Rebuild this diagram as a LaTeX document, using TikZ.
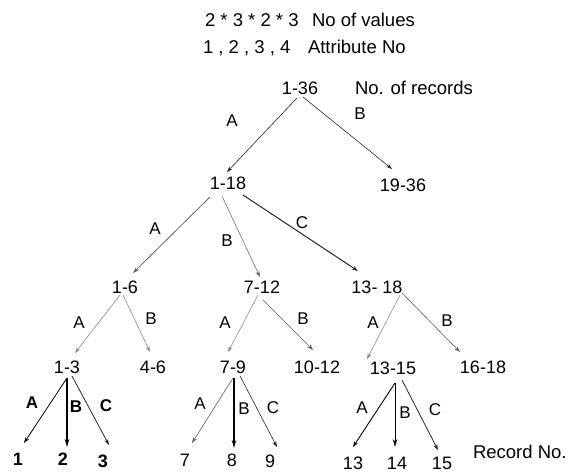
\documentclass[tikz,border=0pt]{standalone}
\usepackage{fontspec}
\setmainfont{Liberation Sans}
\usetikzlibrary{arrows.meta,calc}
\begin{document}
\begin{tikzpicture}[x=1pt,y=-1pt,
  every node/.style={inner sep=0pt,outer sep=0pt,text height=13pt,text depth=0pt},
  num/.style={font=\fontsize{18}{20}\selectfont},
  hdr/.style={font=\fontsize{18.5}{20}\selectfont,anchor=west},
  lab/.style={font=\fontsize{17}{20}\selectfont,text height=12pt},
  blab/.style={lab,font=\fontsize{17}{20}\selectfont\bfseries},
  e/.style={-{Stealth[length=6pt,width=4pt]},line width=0.6pt},
  dk/.style={e,draw=black!85},
  md/.style={e,draw=black!62},
  lt/.style={e,draw=black!45},
  thk/.style={-{Stealth[length=8pt,width=4.5pt]},line width=1.2pt,draw=black}
]
\useasboundingbox (0,0) rectangle (569,475);
% header
\node[hdr] (h1) at (205,20) {2 * 3 * 2 * 3};
\node[hdr] (h2) at (312,20) {No of values};
\node[hdr] (h3) at (203,47) {1 , 2 , 3 , 4};
\node[hdr] (h4) at (308,47) {Attribute No};
\node[hdr] (h5) at (355,88) {No. of records};
\node[hdr] (h6) at (473,452) {Record No.};
% tree nodes
\node[num] (n136) at (300,88) {1-36};
\node[num] (n118) at (228,183) {1-18};
\node[num] (n1936) at (403,185) {19-36};
\node[num] (n16) at (125,287) {1-6};
\node[num] (n712) at (262,287) {7-12};
\node[num] (n1318) at (377,287) {13- 18};
\node[num] (n13) at (67,367) {1-3};
\node[num] (n46) at (153,367) {4-6};
\node[num] (n79) at (233,367) {7-9};
\node[num] (n1012) at (317,367) {10-12};
\node[num] (n1315) at (393,368) {13-15};
\node[num] (n1618) at (483,367) {16-18};
% leaves
\node[num,font=\fontsize{18}{20}\selectfont\bfseries] (l1) at (18,459) {1};
\node[num,font=\fontsize{18}{20}\selectfont\bfseries] (l2) at (63,459) {2};
\node[num,font=\fontsize{18}{20}\selectfont\bfseries] (l3) at (103,461) {3};
\node[num] (l7) at (185,460) {7};
\node[num] (l8) at (232,460) {8};
\node[num] (l9) at (270,461) {9};
\node[num] (l13) at (353,463) {13};
\node[num] (l14) at (397,463) {14};
\node[num] (l15) at (442,463) {15};
% edge labels
\node[lab] (a1) at (232,120) {A};
\node[lab] (b1) at (360,113) {B};
\node[lab] (a2) at (155,228) {A};
\node[lab] (b2) at (227,240) {B};
\node[lab] (c2) at (302,222) {C};
\node[lab] (a3) at (79,322) {A};
\node[lab] (b3) at (151,318) {B};
\node[lab] (a4) at (225,322) {A};
\node[lab] (b4) at (303,318) {B};
\node[lab] (a5) at (373,322) {A};
\node[lab] (b5) at (447,320) {B};
\node[blab] (a6) at (32,402) {A};
\node[blab] (b6) at (76,406) {B};
\node[blab] (c6) at (106,405) {C};
\node[lab] (a7) at (200,403) {A};
\node[lab] (b7) at (244,408) {B};
\node[lab] (c7) at (273,407) {C};
\node[lab] (a8) at (362,407) {A};
\node[lab] (b8) at (405,412) {B};
\node[lab] (c8) at (435,409) {C};
% edges
\draw[dk] ($(n136.south)+(-3,3.5)$) -- ($(n118.north)+(-1,-4.5)$);
\draw[dk] ($(n136.south)+(3,2.5)$) -- ($(n1936.north)+(-11,-9.5)$);
\draw[md,line width=0.8pt] ($(n118.south)+(-18,7.5)$) -- ($(n16.north)+(8,-7.5)$);
\draw[md,line width=0.5pt] ($(n118.south)+(-6,6.5)$) -- ($(n712.north)+(-2,-3.5)$);
\draw[dk,line width=1pt] ($(n118.south)+(15,5.5)$) -- ($(n1318.north)+(-19,-9.5)$);
\draw[lt] ($(n16.south)+(-5,1.5)$) -- ($(n13.north)+(8,-7.5)$);
\draw[lt] ($(n16.south)+(-2,1.5)$) -- ($(n46.north)+(-3,-8.5)$);
\draw[lt] ($(n712.south)+(-4,1.5)$) -- ($(n79.north)+(-5,-8.5)$);
\draw[md] ($(n712.south)+(1,6.5)$) -- ($(n1012.north)+(-4,-10.5)$);
\draw[lt] ($(n1318.south)+(23,1.5)$) -- ($(n1315.north)+(-26,-2.5)$);
\draw[md] ($(n1318.south)+(25,-0.5)$) -- ($(n1618.north)+(-23,-8.5)$);
\draw[dk,draw=black,line width=0.8pt] ($(n13.south)+(0,4.5)$) -- ($(l1.north)+(6,-9.5)$);
\draw[thk] ($(n13.south)+(0,4.5)$) -- ($(l2.north)+(4,-5.5)$);
\draw[dk,line width=0.8pt] ($(n13.south)+(5,2.5)$) -- ($(l3.north)+(6,-9.5)$);
\draw[md] ($(n79.south)+(0,4.5)$) -- ($(l7.north)+(7,-10.5)$);
\draw[thk] ($(n79.south)+(1,4.5)$) -- ($(l8.north)+(2,-5.5)$);
\draw[dk] ($(n79.south)+(7,2.5)$) -- ($(l9.north)+(7,-7.5)$);
\draw[dk,draw=black,line width=0.9pt] ($(n1315.south)+(2,8.5)$) -- ($(l13.north)+(0,-9.5)$);
\draw[thk,line width=1pt] ($(n1315.south)+(2,8.5)$) -- ($(l14.north)+(-2,-9.5)$);
\draw[dk,line width=0.8pt] ($(n1315.south)+(9,5.5)$) -- ($(l15.north)+(-4,-6.5)$);
\end{tikzpicture}
\end{document}
